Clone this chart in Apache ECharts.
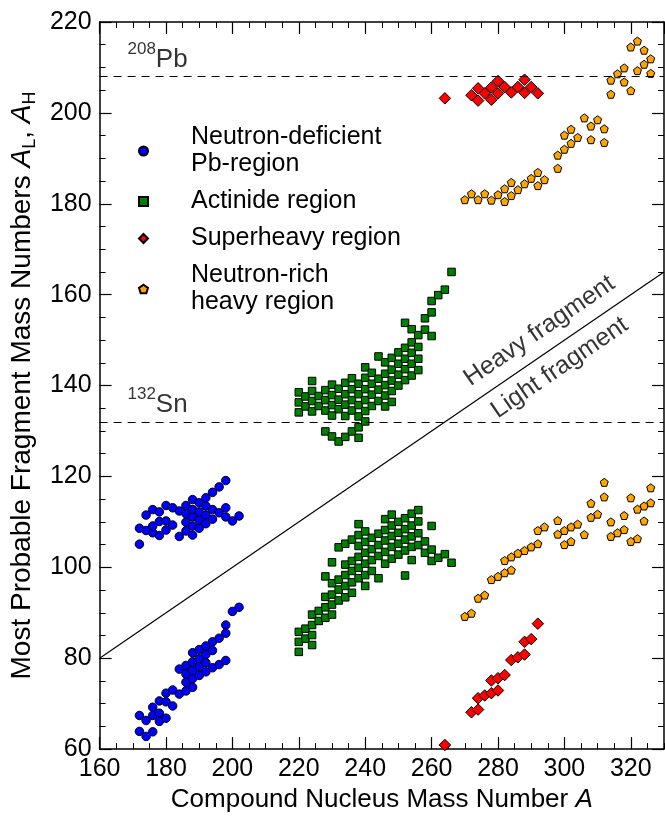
<!DOCTYPE html>
<html><head><meta charset="utf-8">
<script src="https://cdn.jsdelivr.net/npm/echarts@6/dist/echarts.min.js"></script>
<style>html,body{margin:0;padding:0;background:#fff}#c{width:665px;height:818px}</style>
</head><body><div id="c"></div>
<script>
// ---- data: [compound nucleus A, most probable fragment mass] ----
const pbHeavy = [[172,105.1],[172,108.6],[174,108.1],[174,111.5],[176,107.6],[176,109.1],[176,112.7],[178,107.0],[178,110.1],[178,112.2],[180,108.2],[180,110.2],[180,113.6],[182,109.3],[182,113.1],[184,106.8],[184,112.4],[186,108.0],[186,109.9],[186,111.8],[186,113.6],[188,107.1],[188,109.1],[188,111.1],[188,112.7],[188,114.9],[190,108.6],[190,110.4],[190,112.2],[190,114.2],[192,109.6],[192,111.5],[192,113.5],[192,115.3],[194,110.6],[194,112.7],[194,116.5],[196,112.0],[196,117.7],[198,111.1],[198,113.1],[198,119.1],[200,110.2],[202,111.3]];
const pbLight = [[172,67.4],[172,63.9],[174,66.3],[174,62.8],[176,69.2],[176,67.4],[176,63.8],[178,70.6],[178,67.9],[178,66.1],[180,72.3],[180,70.4],[180,66.8],[182,73.0],[182,69.5],[184,77.6],[184,72.1],[186,78.4],[186,76.5],[186,74.7],[186,72.8],[188,81.2],[188,79.2],[188,77.3],[188,75.5],[188,73.6],[190,81.9],[190,79.9],[190,78.1],[190,76.2],[192,82.7],[192,80.8],[192,79.0],[192,77.0],[194,83.6],[194,81.7],[194,77.9],[196,84.4],[196,78.6],[198,87.3],[198,85.5],[198,79.5],[200,90.3],[202,91.2]];

const actHeavy = [[220,138.5],[220,136.3],[220,134.1],[222,137.6],[222,135.4],[224,141.0],[224,138.8],[224,136.6],[224,134.3],[226,137.7],[226,135.5],[228,139.0],[228,136.8],[228,134.5],[228,129.9],[230,140.2],[230,137.9],[230,135.7],[230,133.4],[230,128.8],[232,139.3],[232,136.9],[232,134.8],[232,127.7],[234,140.6],[234,138.1],[234,135.8],[234,133.3],[234,128.7],[236,141.6],[236,139.2],[236,136.8],[236,134.5],[236,129.9],[238,140.4],[238,138.1],[238,135.7],[238,133.2],[238,130.8],[238,128.5],[240,144.0],[240,141.7],[240,139.2],[240,136.8],[240,134.4],[240,132.1],[242,142.8],[242,140.4],[242,138.0],[242,135.5],[244,146.4],[244,141.5],[244,139.1],[244,136.6],[246,145.1],[246,142.6],[246,140.1],[246,137.8],[246,135.4],[248,146.1],[248,143.5],[248,141.1],[248,138.8],[248,136.4],[250,147.3],[250,144.8],[250,142.4],[250,140.0],[252,153.8],[252,148.3],[252,145.9],[252,143.6],[252,141.2],[254,152.4],[254,149.5],[254,147.2],[254,144.8],[254,142.2],[256,151.1],[256,148.5],[256,145.9],[256,143.4],[258,154.8],[258,152.3],[260,158.6],[260,156.1],[260,150.9],[262,159.9],[264,161.1],[266,165.0]];
const actLight = [[220,85.8],[220,83.6],[220,81.4],[222,86.5],[222,84.3],[224,89.6],[224,87.3],[224,85.1],[224,82.9],[226,90.4],[226,88.2],[228,98.0],[228,93.5],[228,91.2],[228,88.9],[230,101.1],[230,96.5],[230,94.0],[230,91.8],[230,89.6],[232,104.4],[232,97.3],[232,95.1],[232,92.7],[234,105.2],[234,100.6],[234,98.3],[234,95.9],[234,93.4],[236,106.1],[236,101.4],[236,99.2],[236,96.7],[236,94.4],[238,109.5],[238,107.1],[238,104.7],[238,102.3],[238,99.9],[238,97.6],[240,107.9],[240,105.6],[240,103.2],[240,100.8],[240,98.3],[240,95.9],[242,106.5],[242,104.0],[242,101.6],[242,99.2],[244,107.4],[244,104.9],[244,102.5],[244,97.6],[246,110.6],[246,108.2],[246,105.9],[246,103.4],[246,100.8],[248,111.6],[248,109.2],[248,106.9],[248,104.5],[248,101.9],[250,110.0],[250,107.6],[250,105.2],[250,102.8],[252,110.8],[252,108.4],[252,106.1],[252,103.7],[252,98.2],[254,111.8],[254,109.2],[254,106.8],[254,104.5],[254,101.6],[256,112.6],[256,110.1],[256,107.5],[256,104.9],[258,105.7],[258,103.2],[260,109.1],[260,103.9],[260,101.4],[262,102.1],[264,102.9],[266,101.0]];

const shHeavy = [[264,203.2],[272,203.9],[274,205.4],[274,202.7],[276,204.3],[278,205.6],[278,202.9],[280,207.0],[280,204.3],[282,205.7],[284,204.5],[286,205.7],[288,207.3],[288,204.4],[290,205.7],[292,204.3]];
const shLight = [[264,60.9],[272,68.1],[274,68.7],[274,71.2],[276,71.8],[278,72.3],[278,75.1],[280,72.9],[280,75.6],[282,76.3],[284,79.6],[286,80.2],[288,80.8],[288,83.6],[290,84.2],[292,87.6]];

const nrHeavy = [[270,180.9],[272,182.2],[274,180.9],[276,182.2],[278,180.8],[280,182.0],[282,180.5],[282,183.3],[284,181.8],[284,184.7],[286,183.1],[288,184.4],[290,185.6],[292,186.9],[292,184.0],[294,185.3],[298,187.8],[298,190.7],[300,192.0],[300,195.1],[302,193.3],[302,196.4],[304,194.6],[306,198.9],[308,197.1],[308,194.1],[310,198.5],[312,196.5],[312,193.5],[314,204.1],[314,207.2],[316,208.6],[318,209.9],[318,206.8],[320,204.9],[320,214.5],[322,215.8],[322,209.3],[324,213.8],[324,210.7],[326,211.9],[326,208.7]];
const nrLight = [[270,89.2],[272,89.9],[274,93.2],[276,93.9],[278,97.3],[280,98.0],[282,98.8],[282,101.5],[284,99.4],[284,102.3],[286,103.1],[288,103.7],[290,104.5],[292,105.2],[292,108.1],[294,108.9],[298,110.3],[298,107.3],[300,108.1],[300,105.0],[302,108.9],[302,105.7],[304,109.5],[306,107.2],[308,111.0],[308,114.1],[310,111.7],[312,118.7],[312,115.5],[314,110.0],[314,106.8],[316,107.6],[318,111.4],[318,108.3],[320,105.7],[320,115.3],[322,112.8],[322,106.3],[324,113.5],[324,110.2],[326,117.5],[326,114.2]];

const symmetricLine = [[160,80],[330,165]];   // A_L = A_H = A/2
const refLevels = [208, 132];                   // 208Pb and 132Sn
const regionNames = ['Neutron-deficient\nPb-region','Actinide region','Superheavy region','Neutron-rich\nheavy region'];
const xRange = [160, 330], yRange = [60, 220];

// ---- styling ----
const FONT = '"Liberation Sans", Arial, Helvetica, sans-serif';
const pentagon = 'path://M0,-1L0.951,-0.309L0.588,0.809L-0.588,0.809L-0.951,-0.309Z';
const border = {borderColor:'#000', borderWidth:1, opacity:1};

function majorX(pos, labels){
  return {type:'value', position:pos, min:xRange[0], max:xRange[1], interval:20,
    axisLine:{show:true, onZero:false, lineStyle:{color:'#000', width:1.5}},
    axisTick:{show:true, inside:true, length:12, lineStyle:{color:'#000', width:1.2}},
    axisLabel:{show:labels, showMaxLabel:false, margin:8, color:'#000', fontSize:25, fontFamily:FONT},
    splitLine:{show:false}};
}
function minorX(pos){
  return {type:'value', position:pos, min:xRange[0], max:xRange[1], interval:5,
    axisLine:{show:false}, axisTick:{show:true, inside:true, length:6, lineStyle:{color:'#000', width:1}},
    axisLabel:{show:false}, splitLine:{show:false}};
}
function majorY(pos, labels){
  return {type:'value', position:pos, min:yRange[0], max:yRange[1], interval:20,
    axisLine:{show:true, onZero:false, lineStyle:{color:'#000', width:1.5}},
    axisTick:{show:true, inside:true, length:12, lineStyle:{color:'#000', width:1.2}},
    axisLabel:{show:labels, margin:8, color:'#000', fontSize:25, fontFamily:FONT},
    splitLine:{show:false}};
}
function minorY(pos){
  return {type:'value', position:pos, min:yRange[0], max:yRange[1], interval:5,
    axisLine:{show:false}, axisTick:{show:true, inside:true, length:6, lineStyle:{color:'#000', width:1}},
    axisLabel:{show:false}, splitLine:{show:false}};
}

const xMain = majorX('bottom', true);
Object.assign(xMain, {name:'Compound Nucleus Mass Number {i|A}', nameLocation:'middle', nameGap:33,
  nameTextStyle:{color:'#000', fontSize:26, fontFamily:FONT, rich:{i:{fontStyle:'italic', fontSize:26, fontFamily:FONT, color:'#000'}}}});
const yMain = majorY('left', true);
Object.assign(yMain, {name:'Most Probable Fragment Mass Numbers {i|A}{s|L}, {i|A}{s|H}', nameLocation:'middle', nameGap:56,
  nameTextStyle:{color:'#000', fontSize:28, fontFamily:FONT, rich:{
    i:{fontStyle:'italic', fontSize:28, fontFamily:FONT, color:'#000'},
    s:{fontSize:18, fontFamily:FONT, color:'#000', verticalAlign:'bottom', padding:[16,0,0,0]}}}});

const annLabel = {color:'#000', fontSize:25, fontFamily:FONT};
const supRich = {sup:{fontSize:17, fontFamily:FONT, color:'#000', verticalAlign:'top', padding:[0,0,20,0]},
                 m:{fontSize:26, fontFamily:FONT, color:'#000'}};
const option = {
  animation:false,
  backgroundColor:'#fff',
  grid:{left:95, right:1, top:22, bottom:62, containLabel:false},
  xAxis:[xMain, minorX('bottom'), majorX('top', false), minorX('top')],
  yAxis:[yMain, minorY('left'), majorY('right', false), minorY('right')],
  legend:{orient:'vertical', left:138, top:124, padding:0, itemGap:10, itemWidth:9, itemHeight:9, selectedMode:false,
    data:[{name:regionNames[0], icon:'circle'},{name:regionNames[1], icon:'rect'},{name:regionNames[2], icon:'diamond'},{name:regionNames[3], icon:pentagon}],
    textStyle:{color:'#000', fontSize:25, lineHeight:27, fontFamily:FONT, padding:[0,0,0,38]}},
  series:[
    {type:'line', name:'A/2', data:symmetricLine, showSymbol:false, symbol:'none', silent:true,
     lineStyle:{color:'#000', width:1.2}, z:1,
     markLine:{silent:true, symbol:['none','none'], label:{show:false},
       lineStyle:{color:'#000', width:1.1, type:[8,6]},
       data:refLevels.map(v=>({yAxis:v}))}},
    {type:'scatter', name:regionNames[0], symbol:'circle', symbolSize:8.5, data:pbHeavy.concat(pbLight),
     itemStyle:Object.assign({color:'#0000ff'}, border), z:3},
    {type:'scatter', name:regionNames[1], symbol:'rect', symbolSize:7.5, data:actHeavy.concat(actLight),
     itemStyle:Object.assign({color:'#008000'}, border), z:3},
    {type:'scatter', name:regionNames[2], symbol:'diamond', symbolSize:11.5, data:shHeavy.concat(shLight),
     itemStyle:Object.assign({color:'#ff0000'}, border), z:3},
    {type:'scatter', name:regionNames[3], symbol:pentagon, symbolSize:8, data:nrHeavy.concat(nrLight),
     itemStyle:Object.assign({color:'#ffa500'}, border), z:3},
    {type:'scatter', name:'annotations', symbolSize:0, silent:true, z:4,
     data:[
       {value:[168.4, 211.7], label:{show:true, position:'right', distance:0, formatter:'{sup|208}{m|Pb}', rich:supRich}},
       {value:[168.4, 135.8], label:{show:true, position:'right', distance:0, formatter:'{sup|132}{m|Sn}', rich:supRich}},
       {value:[292.5, 152.0], label:Object.assign({show:true, position:'inside', rotate:34.4, formatter:'Heavy fragment'}, annLabel)},
       {value:[298.6, 143.9], label:Object.assign({show:true, position:'inside', rotate:34.4, formatter:'Light fragment'}, annLabel)}
     ]}
  ]
};
const chart = echarts.init(document.getElementById('c'), null, {renderer:'canvas'});
chart.setOption(option);
</script>
</body></html>
